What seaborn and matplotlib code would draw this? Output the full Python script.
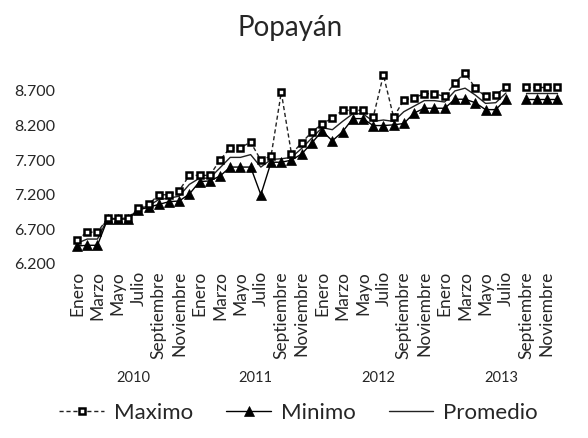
import numpy as np
import pandas as pd
import matplotlib
matplotlib.use("Agg")
import matplotlib.pyplot as plt
import matplotlib.transforms as mtrans
import seaborn as sns

title = "Popayán"
years = ["2010", "2011", "2012", "2013"]
months = ["Enero", "Febrero", "Marzo", "Abril", "Mayo", "Junio", "Julio",
          "Agosto", "Septiembre", "Octubre", "Noviembre", "Diciembre"]

maximo = [6550, 6660, 6660, 6860, 6860, 6860, 7010, 7060, 7200, 7200, 7260, 7480,
          7480, 7480, 7700, 7880, 7880, 7960, 7700, 7760, 8680, 7790, 7950, 8110,
          8220, 8310, 8420, 8420, 8420, 8320, 8930, 8320, 8570, 8600, 8660, 8660,
          8620, 8820, 8960, 8740, 8620, 8640, 8760, np.nan, 8760, 8760, 8760, 8760]
minimo = [6460, 6470, 6470, 6850, 6850, 6850, 6980, 7020, 7060, 7100, 7110, 7210,
          7390, 7400, 7470, 7600, 7600, 7600, 7200, 7670, 7670, 7700, 7790, 7950,
          8120, 7980, 8110, 8300, 8300, 8200, 8200, 8210, 8230, 8380, 8450, 8450,
          8450, 8580, 8580, 8530, 8430, 8430, 8580, np.nan, 8580, 8580, 8580, 8580]
promedio = [6500, 6560, 6560, 6855, 6855, 6855, 6995, 7040, 7130, 7150, 7180, 7350,
            7440, 7440, 7590, 7740, 7740, 7780, 7600, 7710, 7720, 7740, 7870, 8020,
            8170, 8140, 8260, 8370, 8370, 8260, 8280, 8260, 8400, 8480, 8560, 8560,
            8540, 8700, 8740, 8640, 8520, 8530, 8670, np.nan, 8670, 8670, 8670, 8670]

series_names = ["Maximo", "Minimo", "Promedio"]
ytick_values = [6200, 6700, 7200, 7700, 8200, 8700]

sns.set_theme(style="white")
plt.rcParams["font.family"] = ["Lato", "DejaVu Sans"]

n = len(years) * len(months)
idx = np.arange(n)

frames = []
for name, vals in zip(series_names, [maximo, minimo, promedio]):
    v = np.array(vals, dtype=float)
    seg = np.cumsum(np.isnan(v))
    d = pd.DataFrame({"idx": idx, "value": v, "serie": name, "seg": seg})
    frames.append(d.dropna())
df = pd.concat(frames, ignore_index=True)

fig = plt.figure(figsize=(5.88, 4.38), dpi=100)
ax = fig.add_axes([0.1223, 0.3973, 0.8337, 0.4425])

styles = {
    "Maximo": dict(marker="s", markersize=4.8, markerfacecolor="white",
                   markeredgecolor="black", markeredgewidth=1.8,
                   color="#222222", linewidth=1.0, linestyle=(0, (3, 2))),
    "Minimo": dict(marker="^", markersize=6.5, markerfacecolor="black",
                   markeredgecolor="black", markeredgewidth=0.5,
                   color="black", linewidth=1.0),
    "Promedio": dict(color="#222222", linewidth=1.0),
}
order = ["Promedio", "Minimo", "Maximo"]
for name in order:
    sub = df[df["serie"] == name]
    sns.lineplot(data=sub, x="idx", y="value", units="seg", estimator=None,
                 ax=ax, label=name, clip_on=False, **styles[name])

ax.set_xlim(-0.5, n - 0.5)
ax.set_ylim(6200, 9000)
ax.set_yticks(ytick_values)
ax.set_yticklabels([f"{v:,.0f}".replace(",", ".") for v in ytick_values], fontsize=11.5)

xt = idx[::2]
ax.set_xticks(xt)
ax.set_xticklabels([months[i % 12] for i in xt], rotation=90, fontsize=12.5)
ax.tick_params(axis="both", length=0)
ax.tick_params(axis="y", pad=12)
ax.tick_params(axis="x", pad=5)
ax.set_xlabel("")
ax.set_ylabel("")
for s in ax.spines.values():
    s.set_visible(False)
ax.grid(False)

trans = mtrans.blended_transform_factory(ax.transData, fig.transFigure)
for k, y in enumerate(years):
    center = (k * 12 + k * 12 + 11) / 2
    ax.text(center, 0.137, y, transform=trans, ha="center", va="center", fontsize=10.5)

fig.text(0.493, 0.937, title, ha="center", va="center", fontsize=20)

handles, labels = ax.get_legend_handles_labels()
uniq = {}
for h, l in zip(handles, labels):
    if l not in uniq:
        uniq[l] = h
ax.legend([uniq[s] for s in series_names], series_names, loc="center",
          bbox_to_anchor=(0.508, 0.057), bbox_transform=fig.transFigure,
          ncol=3, frameon=False, fontsize=16, handlelength=2.0,
          columnspacing=1.5, handletextpad=0.45)

fig.savefig("out.png", dpi=100, facecolor="white")
